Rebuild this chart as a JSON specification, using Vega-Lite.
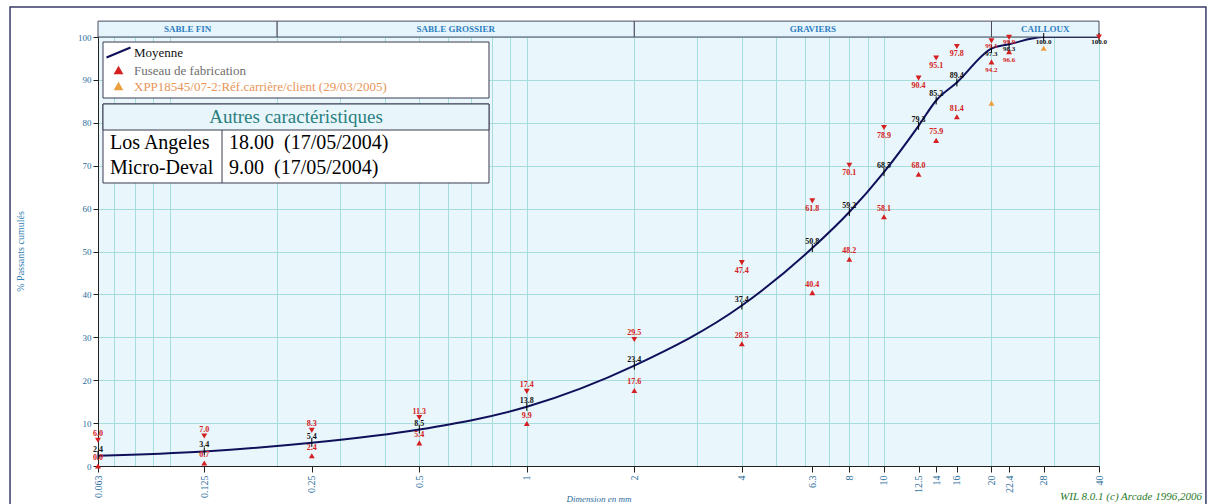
{
  "$schema": "https://vega.github.io/schema/vega-lite/v6.json",
  "width": 1001,
  "height": 429,
  "autosize": {"type": "none"},
  "padding": {"left": 98, "top": 37, "right": 109, "bottom": 38},
  "background": "white",
  "config": {
    "view": {"fill": "#e9f6fc", "stroke": "#2a2a48", "strokeWidth": 1},
    "font": "Liberation Serif"
  },
  "datasets": {
    "granulo": [
      {"d": 0.063, "p": 2.4, "serie": "Moyenne"},
      {"d": 0.125, "p": 3.4, "serie": "Moyenne"},
      {"d": 0.25, "p": 5.4, "serie": "Moyenne"},
      {"d": 0.5, "p": 8.5, "serie": "Moyenne"},
      {"d": 1, "p": 13.8, "serie": "Moyenne"},
      {"d": 2, "p": 23.4, "serie": "Moyenne"},
      {"d": 4, "p": 37.4, "serie": "Moyenne"},
      {"d": 6.3, "p": 50.8, "serie": "Moyenne"},
      {"d": 8, "p": 59.2, "serie": "Moyenne"},
      {"d": 10, "p": 68.5, "serie": "Moyenne"},
      {"d": 12.5, "p": 79.3, "serie": "Moyenne"},
      {"d": 14, "p": 85.2, "serie": "Moyenne"},
      {"d": 16, "p": 89.4, "serie": "Moyenne"},
      {"d": 20, "p": 97.3, "serie": "Moyenne"},
      {"d": 22.4, "p": 98.3, "serie": "Moyenne"},
      {"d": 28, "p": 100.0, "serie": "Moyenne"},
      {"d": 40, "p": 100.0, "serie": "Moyenne"},
      {"d": 0.063, "p": 6.0, "serie": "Fuseau de fabrication", "borne": "sup"},
      {"d": 0.125, "p": 7.0, "serie": "Fuseau de fabrication", "borne": "sup"},
      {"d": 0.25, "p": 8.3, "serie": "Fuseau de fabrication", "borne": "sup"},
      {"d": 0.5, "p": 11.3, "serie": "Fuseau de fabrication", "borne": "sup"},
      {"d": 1, "p": 17.4, "serie": "Fuseau de fabrication", "borne": "sup"},
      {"d": 2, "p": 29.5, "serie": "Fuseau de fabrication", "borne": "sup"},
      {"d": 4, "p": 47.4, "serie": "Fuseau de fabrication", "borne": "sup"},
      {"d": 6.3, "p": 61.8, "serie": "Fuseau de fabrication", "borne": "sup"},
      {"d": 8, "p": 70.1, "serie": "Fuseau de fabrication", "borne": "sup"},
      {"d": 10, "p": 78.9, "serie": "Fuseau de fabrication", "borne": "sup"},
      {"d": 12.5, "p": 90.4, "serie": "Fuseau de fabrication", "borne": "sup"},
      {"d": 14, "p": 95.1, "serie": "Fuseau de fabrication", "borne": "sup"},
      {"d": 16, "p": 97.8, "serie": "Fuseau de fabrication", "borne": "sup"},
      {"d": 20, "p": 99.1, "serie": "Fuseau de fabrication", "borne": "sup"},
      {"d": 22.4, "p": 99.9, "serie": "Fuseau de fabrication", "borne": "sup"},
      {"d": 40, "p": 100.0, "serie": "Fuseau de fabrication", "borne": "sup"},
      {"d": 0.063, "p": 0.0, "serie": "Fuseau de fabrication", "borne": "inf"},
      {"d": 0.125, "p": 0.7, "serie": "Fuseau de fabrication", "borne": "inf"},
      {"d": 0.25, "p": 2.4, "serie": "Fuseau de fabrication", "borne": "inf"},
      {"d": 0.5, "p": 5.4, "serie": "Fuseau de fabrication", "borne": "inf"},
      {"d": 1, "p": 9.9, "serie": "Fuseau de fabrication", "borne": "inf"},
      {"d": 2, "p": 17.6, "serie": "Fuseau de fabrication", "borne": "inf"},
      {"d": 4, "p": 28.5, "serie": "Fuseau de fabrication", "borne": "inf"},
      {"d": 6.3, "p": 40.4, "serie": "Fuseau de fabrication", "borne": "inf"},
      {"d": 8, "p": 48.2, "serie": "Fuseau de fabrication", "borne": "inf"},
      {"d": 10, "p": 58.1, "serie": "Fuseau de fabrication", "borne": "inf"},
      {"d": 12.5, "p": 68.0, "serie": "Fuseau de fabrication", "borne": "inf"},
      {"d": 14, "p": 75.9, "serie": "Fuseau de fabrication", "borne": "inf"},
      {"d": 16, "p": 81.4, "serie": "Fuseau de fabrication", "borne": "inf"},
      {"d": 20, "p": 94.2, "serie": "Fuseau de fabrication", "borne": "inf"},
      {"d": 22.4, "p": 96.6, "serie": "Fuseau de fabrication", "borne": "inf"},
      {"d": 20, "p": 84.6, "serie": "XPP18545/07-2:Réf.carrière/client (29/03/2005)"},
      {"d": 28, "p": 97.4, "serie": "XPP18545/07-2:Réf.carrière/client (29/03/2005)"}
    ],
    "classes": [
      {"classe": "SABLE FIN", "min": 0.063, "max": 0.2},
      {"classe": "SABLE GROSSIER", "min": 0.2, "max": 2},
      {"classe": "GRAVIERS", "min": 2, "max": 20},
      {"classe": "CAILLOUX", "min": 20, "max": 40}
    ],
    "caracteristiques": [
      {"caracteristique": "Los Angeles", "resultat": "18.00\u00a0 (17/05/2004)"},
      {"caracteristique": "Micro-Deval", "resultat": "9.00\u00a0 (17/05/2004)"}
    ]
  },
  "layer": [
    {
      "data": {"name": "granulo"},
      "transform": [{"filter": "datum.serie === 'Moyenne'"}],
      "mark": {"type": "line", "interpolate": "monotone", "strokeWidth": 2},
      "encoding": {
        "x": {
          "field": "d", "type": "quantitative",
          "scale": {"type": "log", "domain": [0.063, 40], "nice": false},
          "axis": {
            "title": "Dimension en mm",
            "values": [0.063, 0.07, 0.08, 0.09, 0.1, 0.125, 0.2, 0.25, 0.3, 0.4, 0.5, 0.6, 0.7, 0.8, 0.9, 1, 2, 3, 4, 5, 6, 6.3, 7, 8, 9, 10, 12.5, 14, 16, 20, 22.4, 28, 30, 40],
            "labelExpr": "indexof([0.07, 0.08, 0.09, 0.1, 0.2, 0.3, 0.4, 0.6, 0.7, 0.8, 0.9, 3, 5, 6, 7, 9, 30], datum.value) >= 0 ? '' : '' + datum.value",
            "labelAngle": -90, "labelAlign": "right", "labelBaseline": "middle",
            "labelFont": "Liberation Serif", "labelFontSize": 10, "labelColor": "#2d6e9c",
            "labelOverlap": false, "labelBound": false, "labelFlush": false, "labelPadding": 3,
            "tickSize": 6,
            "tickColor": {"condition": {"test": "indexof([0.07, 0.08, 0.09, 0.1, 0.2, 0.3, 0.4, 0.6, 0.7, 0.8, 0.9, 3, 5, 6, 7, 9, 30], datum.value) >= 0", "value": "transparent"}, "value": "#222222"},
            "domainColor": "#222222",
            "grid": true,
            "gridColor": {"condition": {"test": "indexof([0.063, 0.125, 0.25, 6.3, 12.5, 14, 16, 22.4, 28], datum.value) >= 0", "value": "transparent"}, "value": "#a6dcdc"},
            "gridWidth": 1,
            "titleFont": "Liberation Serif", "titleFontStyle": "italic", "titleFontSize": 9,
            "titleFontWeight": "normal", "titleColor": "#2d6e9c",
            "titleY": 32, "titleBaseline": "middle"
          }
        },
        "y": {
          "field": "p", "type": "quantitative",
          "scale": {"domain": [0, 100], "nice": false, "zero": false},
          "axis": {
            "title": "% Passants cumulés",
            "values": [0, 5, 10, 15, 20, 25, 30, 35, 40, 45, 50, 55, 60, 65, 70, 75, 80, 85, 90, 95, 100],
            "labelExpr": "datum.value % 10 === 0 ? '' + datum.value : ''",
            "tickColor": {"condition": {"test": "datum.value % 10 !== 0", "value": "transparent"}, "value": "#222222"},
            "tickSize": 5,
            "labelFont": "Liberation Serif", "labelFontSize": 9, "labelColor": "#2d6e9c", "labelPadding": 2,
            "grid": true, "gridColor": "#a6dcdc", "gridWidth": 1,
            "domainColor": "#222222",
            "titleX": -78, "titleY": 214, "titleAngle": -90, "titleAlign": "center", "titleBaseline": "middle",
            "titleFont": "Liberation Serif", "titleFontSize": 10, "titleFontWeight": "normal", "titleColor": "#3a82b0"
          }
        },
        "color": {
          "field": "serie", "type": "nominal",
          "scale": {
            "domain": ["Moyenne", "Fuseau de fabrication", "XPP18545/07-2:Réf.carrière/client (29/03/2005)"],
            "range": ["#10105a", "#d42020", "#eba040"]
          },
          "legend": {
            "title": null, "orient": "none", "legendX": 14, "legendY": 9, "direction": "vertical",
            "labelFont": "Liberation Serif", "labelFontSize": 13, "labelLimit": 400, "labelOffset": 9,
            "symbolSize": 50, "rowPadding": 1, "symbolStrokeWidth": 2,
            "encode": {
              "symbols": {"update": {
                "shape": {"signal": "datum.value === 'Moyenne' ? 'M-1,0.42L1,-0.42' : 'triangle-up'"},
                "size": {"signal": "datum.value === 'Moyenne' ? 576 : 40"},
                "fill": {"signal": "datum.value === 'Moyenne' ? 'transparent' : (datum.value === 'Fuseau de fabrication' ? '#d42020' : '#eba040')"},
                "stroke": {"signal": "datum.value === 'Moyenne' ? '#10105a' : 'transparent'"}
              }},
              "labels": {"update": {
                "fill": {"signal": "datum.value === 'Moyenne' ? '#111111' : (datum.value === 'Fuseau de fabrication' ? '#6e6e6e' : '#e8955a')"}
              }}
            }
          }
        }
      }
    },
    {
      "data": {"values": [{}]},
      "mark": {"type": "rect", "fill": "transparent", "stroke": "#3a3a6a", "strokeWidth": 1.5},
      "encoding": {
        "x": {"datum": 0.03573, "type": "quantitative"},
        "x2": {"datum": 79.7},
        "y": {"datum": 107.0, "type": "quantitative"},
        "y2": {"datum": -10}
      }
    },
    {
      "data": {"name": "classes"},
      "mark": {"type": "rect", "fill": "#e6f4fc", "stroke": "#4a4a60", "strokeWidth": 1},
      "encoding": {
        "x": {"field": "min", "type": "quantitative"},
        "x2": {"field": "max"},
        "y": {"datum": 100, "type": "quantitative"},
        "y2": {"datum": 103.7}
      }
    },
    {
      "data": {"name": "classes"},
      "transform": [{"calculate": "sqrt(datum.min * datum.max)", "as": "centre"}],
      "mark": {"type": "text", "font": "Liberation Serif", "fontSize": 9, "fontWeight": "bold", "color": "#2f7fc0", "baseline": "middle"},
      "encoding": {
        "x": {"field": "centre", "type": "quantitative"},
        "y": {"datum": 101.85, "type": "quantitative"},
        "text": {"field": "classe"}
      }
    },
    {
      "data": {"name": "granulo"},
      "transform": [{"filter": "datum.serie === 'Moyenne'"}],
      "mark": {"type": "point", "shape": "M0,-1L0,1", "size": 64, "filled": false, "stroke": "#000000", "strokeWidth": 1, "opacity": 1},
      "encoding": {
        "x": {"field": "d", "type": "quantitative"},
        "y": {"field": "p", "type": "quantitative"}
      }
    },
    {
      "data": {"name": "granulo"},
      "transform": [{"filter": "datum.borne === 'sup'"}],
      "mark": {"type": "point", "shape": "triangle-down", "size": 35, "filled": true, "opacity": 1},
      "encoding": {
        "x": {"field": "d", "type": "quantitative"},
        "y": {"field": "p", "type": "quantitative"},
        "color": {"field": "serie", "type": "nominal"}
      }
    },
    {
      "data": {"name": "granulo"},
      "transform": [{"filter": "datum.borne === 'inf' || (datum.serie !== 'Moyenne' && datum.serie !== 'Fuseau de fabrication')"}],
      "mark": {"type": "point", "shape": "triangle-up", "size": 35, "filled": true, "opacity": 1},
      "encoding": {
        "x": {"field": "d", "type": "quantitative"},
        "y": {"field": "p", "type": "quantitative"},
        "color": {"field": "serie", "type": "nominal"}
      }
    },
    {
      "data": {"name": "granulo"},
      "transform": [{"filter": "datum.serie === 'Moyenne' && datum.d < 19"}],
      "mark": {"type": "text", "dy": -6, "font": "Liberation Serif", "fontSize": 8, "fontWeight": "bold", "color": "#111111"},
      "encoding": {
        "x": {"field": "d", "type": "quantitative"},
        "y": {"field": "p", "type": "quantitative"},
        "text": {"field": "p", "type": "quantitative", "format": ".1f"}
      }
    },
    {
      "data": {"name": "granulo"},
      "transform": [{"filter": "datum.serie === 'Moyenne' && datum.d >= 19"}],
      "mark": {"type": "text", "dy": 5, "font": "Liberation Serif", "fontSize": 7, "fontWeight": "bold", "color": "#111111"},
      "encoding": {
        "x": {"field": "d", "type": "quantitative"},
        "y": {"field": "p", "type": "quantitative"},
        "text": {"field": "p", "type": "quantitative", "format": ".1f"}
      }
    },
    {
      "data": {"name": "granulo"},
      "transform": [{"filter": "datum.borne === 'sup' && datum.d < 3"}],
      "mark": {"type": "text", "dy": -6, "font": "Liberation Serif", "fontSize": 8, "fontWeight": "bold", "color": "#d42020"},
      "encoding": {
        "x": {"field": "d", "type": "quantitative"},
        "y": {"field": "p", "type": "quantitative"},
        "text": {"field": "p", "type": "quantitative", "format": ".1f"}
      }
    },
    {
      "data": {"name": "granulo"},
      "transform": [{"filter": "datum.borne === 'sup' && datum.d >= 3 && datum.d < 19"}],
      "mark": {"type": "text", "dy": 8, "font": "Liberation Serif", "fontSize": 8, "fontWeight": "bold", "color": "#d42020"},
      "encoding": {
        "x": {"field": "d", "type": "quantitative"},
        "y": {"field": "p", "type": "quantitative"},
        "text": {"field": "p", "type": "quantitative", "format": ".1f"}
      }
    },
    {
      "data": {"name": "granulo"},
      "transform": [{"filter": "datum.borne === 'sup' && datum.d >= 19 && datum.d < 39"}],
      "mark": {"type": "text", "dy": 5, "font": "Liberation Serif", "fontSize": 7, "fontWeight": "bold", "color": "#d42020"},
      "encoding": {
        "x": {"field": "d", "type": "quantitative"},
        "y": {"field": "p", "type": "quantitative"},
        "text": {"field": "p", "type": "quantitative", "format": ".1f"}
      }
    },
    {
      "data": {"name": "granulo"},
      "transform": [{"filter": "datum.borne === 'inf' && datum.d < 19"}],
      "mark": {"type": "text", "dy": -8, "font": "Liberation Serif", "fontSize": 8, "fontWeight": "bold", "color": "#d42020"},
      "encoding": {
        "x": {"field": "d", "type": "quantitative"},
        "y": {"field": "p", "type": "quantitative"},
        "text": {"field": "p", "type": "quantitative", "format": ".1f"}
      }
    },
    {
      "data": {"name": "granulo"},
      "transform": [{"filter": "datum.borne === 'inf' && datum.d >= 19"}],
      "mark": {"type": "text", "dy": 8, "font": "Liberation Serif", "fontSize": 7, "fontWeight": "bold", "color": "#d42020"},
      "encoding": {
        "x": {"field": "d", "type": "quantitative"},
        "y": {"field": "p", "type": "quantitative"},
        "text": {"field": "p", "type": "quantitative", "format": ".1f"}
      }
    },
    {
      "data": {"values": [{}]},
      "mark": {"type": "rect", "fill": "#ffffff", "stroke": "#3a3a50", "strokeWidth": 1},
      "encoding": {
        "x": {"datum": 0.06506, "type": "quantitative"},
        "x2": {"datum": 0.7836},
        "y": {"datum": 98.83, "type": "quantitative"},
        "y2": {"datum": 85.78}
      }
    },
    {
      "data": {"values": [{}]},
      "mark": {"type": "rect", "fill": "#ffffff", "stroke": "#3a3a50", "strokeWidth": 1},
      "encoding": {
        "x": {"datum": 0.06506, "type": "quantitative"},
        "x2": {"datum": 0.7836},
        "y": {"datum": 84.38, "type": "quantitative"},
        "y2": {"datum": 65.97}
      }
    },
    {
      "data": {"values": [{}]},
      "mark": {"type": "rect", "fill": "#e8f6fc", "stroke": "#3a3a50", "strokeWidth": 1},
      "encoding": {
        "x": {"datum": 0.06506, "type": "quantitative"},
        "x2": {"datum": 0.7836},
        "y": {"datum": 84.38, "type": "quantitative"},
        "y2": {"datum": 78.32}
      }
    },
    {
      "data": {"values": [{}]},
      "mark": {"type": "rule", "stroke": "#3a3a50", "strokeWidth": 1},
      "encoding": {
        "x": {"datum": 0.14013, "type": "quantitative"},
        "y": {"datum": 78.32, "type": "quantitative"},
        "y2": {"datum": 65.97}
      }
    },
    {
      "data": {"values": [{}]},
      "mark": {"type": "text", "text": "Autres caractéristiques", "font": "Liberation Serif", "fontSize": 19, "color": "#2a8080", "align": "center", "baseline": "middle"},
      "encoding": {
        "x": {"datum": 0.22582, "type": "quantitative"},
        "y": {"datum": 81.35, "type": "quantitative"}
      }
    },
    {
      "data": {"name": "caracteristiques"},
      "transform": [{"filter": "datum.caracteristique === 'Los Angeles'"}],
      "mark": {"type": "text", "font": "Liberation Serif", "fontSize": 20, "color": "#000000", "align": "left", "baseline": "middle"},
      "encoding": {
        "x": {"datum": 0.06807, "type": "quantitative"},
        "y": {"datum": 75.29, "type": "quantitative"},
        "text": {"field": "caracteristique"}
      }
    },
    {
      "data": {"name": "caracteristiques"},
      "transform": [{"filter": "datum.caracteristique === 'Los Angeles'"}],
      "mark": {"type": "text", "font": "Liberation Serif", "fontSize": 20, "color": "#000000", "align": "left", "baseline": "middle"},
      "encoding": {
        "x": {"datum": 0.1466, "type": "quantitative"},
        "y": {"datum": 75.29, "type": "quantitative"},
        "text": {"field": "resultat"}
      }
    },
    {
      "data": {"name": "caracteristiques"},
      "transform": [{"filter": "datum.caracteristique === 'Micro-Deval'"}],
      "mark": {"type": "text", "font": "Liberation Serif", "fontSize": 20, "color": "#000000", "align": "left", "baseline": "middle"},
      "encoding": {
        "x": {"datum": 0.06807, "type": "quantitative"},
        "y": {"datum": 69.46, "type": "quantitative"},
        "text": {"field": "caracteristique"}
      }
    },
    {
      "data": {"name": "caracteristiques"},
      "transform": [{"filter": "datum.caracteristique === 'Micro-Deval'"}],
      "mark": {"type": "text", "font": "Liberation Serif", "fontSize": 20, "color": "#000000", "align": "left", "baseline": "middle"},
      "encoding": {
        "x": {"datum": 0.1466, "type": "quantitative"},
        "y": {"datum": 69.46, "type": "quantitative"},
        "text": {"field": "resultat"}
      }
    },
    {
      "data": {"values": [{}]},
      "mark": {"type": "text", "text": "WIL 8.0.1 (c) Arcade 1996,2006", "font": "Liberation Serif", "fontSize": 11, "fontStyle": "italic", "color": "#2a7a2a", "align": "right", "baseline": "middle"},
      "encoding": {
        "x": {"datum": 77.7, "type": "quantitative"},
        "y": {"datum": -7.3, "type": "quantitative"}
      }
    }
  ]
}
